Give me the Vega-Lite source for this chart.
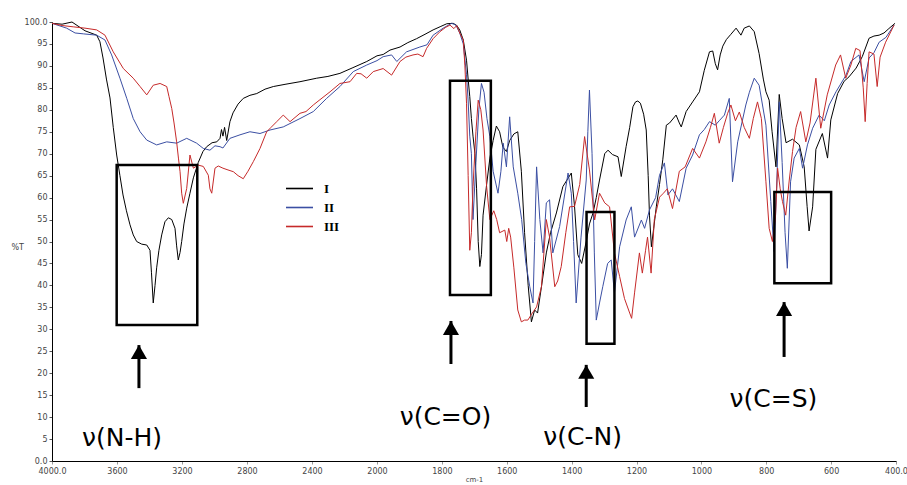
{
"$schema":"https://vega.github.io/schema/vega-lite/v6.json",
"width":844,"height":439,
"autosize":{"type":"none"},
"padding":{"left":52,"top":22,"right":11,"bottom":24},
"background":"white",
"config":{"view":{"stroke":null},"font":"DejaVu Sans"},
"datasets":{
"spec":[
{"s":"I","x":4000,"y":99.7},{"s":"I","x":3938,"y":99.5},{"s":"I","x":3877,"y":100},{"s":"I","x":3797,"y":98},{"s":"I","x":3725,"y":97},{"s":"I","x":3705,"y":95.5},{"s":"I","x":3686,"y":91.8},{"s":"I","x":3665,"y":87},{"s":"I","x":3643,"y":82.7},{"s":"I","x":3623,"y":76},{"s":"I","x":3602,"y":69.7},{"s":"I","x":3582,"y":65},{"s":"I","x":3563,"y":60.6},{"s":"I","x":3542,"y":57},{"s":"I","x":3520,"y":53.8},{"s":"I","x":3500,"y":51.5},{"s":"I","x":3479,"y":50},{"s":"I","x":3448,"y":49.4},{"s":"I","x":3417,"y":49.2},{"s":"I","x":3397,"y":48},{"s":"I","x":3388,"y":43},{"s":"I","x":3377,"y":36},{"s":"I","x":3366,"y":40},{"s":"I","x":3356,"y":44},{"s":"I","x":3342,"y":48},{"s":"I","x":3325,"y":51.5},{"s":"I","x":3305,"y":54.5},{"s":"I","x":3284,"y":55.4},{"s":"I","x":3263,"y":55},{"s":"I","x":3243,"y":53},{"s":"I","x":3233,"y":49},{"s":"I","x":3223,"y":45.8},{"s":"I","x":3212,"y":47.5},{"s":"I","x":3202,"y":50},{"s":"I","x":3188,"y":54},{"s":"I","x":3171,"y":57.6},{"s":"I","x":3151,"y":61},{"s":"I","x":3130,"y":64.5},{"s":"I","x":3100,"y":68},{"s":"I","x":3071,"y":70.5},{"s":"I","x":3048,"y":71.6},{"s":"I","x":3015,"y":72.5},{"s":"I","x":2986,"y":72.7},{"s":"I","x":2966,"y":73.5},{"s":"I","x":2957,"y":75.5},{"s":"I","x":2948,"y":74},{"s":"I","x":2938,"y":76},{"s":"I","x":2925,"y":73},{"s":"I","x":2905,"y":77.3},{"s":"I","x":2886,"y":79.3},{"s":"I","x":2855,"y":81.3},{"s":"I","x":2823,"y":82.6},{"s":"I","x":2782,"y":83.3},{"s":"I","x":2740,"y":83.7},{"s":"I","x":2689,"y":84.7},{"s":"I","x":2638,"y":85.3},{"s":"I","x":2566,"y":85.8},{"s":"I","x":2474,"y":86.4},{"s":"I","x":2371,"y":87.2},{"s":"I","x":2302,"y":87.6},{"s":"I","x":2228,"y":88.3},{"s":"I","x":2148,"y":89.6},{"s":"I","x":2063,"y":91},{"s":"I","x":2000,"y":92.3},{"s":"I","x":1981,"y":92.6},{"s":"I","x":1960,"y":93.6},{"s":"I","x":1929,"y":94.3},{"s":"I","x":1905,"y":95.3},{"s":"I","x":1878,"y":96.2},{"s":"I","x":1852,"y":97.2},{"s":"I","x":1827,"y":98.2},{"s":"I","x":1803,"y":99},{"s":"I","x":1785,"y":99.6},{"s":"I","x":1765,"y":99.7},{"s":"I","x":1754,"y":99.2},{"s":"I","x":1745,"y":98.2},{"s":"I","x":1734,"y":95.9},{"s":"I","x":1724,"y":91.3},{"s":"I","x":1719,"y":87},{"s":"I","x":1714,"y":83},{"s":"I","x":1709,"y":78},{"s":"I","x":1704,"y":74},{"s":"I","x":1698,"y":70},{"s":"I","x":1693,"y":62},{"s":"I","x":1688,"y":50},{"s":"I","x":1683,"y":44.3},{"s":"I","x":1678,"y":47},{"s":"I","x":1673,"y":56},{"s":"I","x":1662,"y":63},{"s":"I","x":1652,"y":69},{"s":"I","x":1642,"y":73},{"s":"I","x":1632,"y":76.3},{"s":"I","x":1622,"y":75},{"s":"I","x":1612,"y":71.5},{"s":"I","x":1601,"y":70.5},{"s":"I","x":1591,"y":73},{"s":"I","x":1578,"y":74.5},{"s":"I","x":1566,"y":75},{"s":"I","x":1555,"y":66},{"s":"I","x":1545,"y":52},{"s":"I","x":1534,"y":40},{"s":"I","x":1524,"y":31.7},{"s":"I","x":1514,"y":34.4},{"s":"I","x":1505,"y":33.7},{"s":"I","x":1493,"y":39.7},{"s":"I","x":1478,"y":47.4},{"s":"I","x":1465,"y":52},{"s":"I","x":1447,"y":56.5},{"s":"I","x":1427,"y":62.5},{"s":"I","x":1401,"y":65.6},{"s":"I","x":1391,"y":58},{"s":"I","x":1381,"y":47},{"s":"I","x":1369,"y":45},{"s":"I","x":1355,"y":50},{"s":"I","x":1345,"y":54},{"s":"I","x":1334,"y":56.5},{"s":"I","x":1324,"y":60},{"s":"I","x":1314,"y":64},{"s":"I","x":1298,"y":70},{"s":"I","x":1288,"y":70.8},{"s":"I","x":1274,"y":69.8},{"s":"I","x":1257,"y":69.3},{"s":"I","x":1247,"y":64.8},{"s":"I","x":1232,"y":71.6},{"s":"I","x":1221,"y":76},{"s":"I","x":1211,"y":80.7},{"s":"I","x":1203,"y":81.8},{"s":"I","x":1196,"y":82},{"s":"I","x":1188,"y":81.5},{"s":"I","x":1178,"y":79},{"s":"I","x":1170,"y":75.4},{"s":"I","x":1164,"y":65},{"s":"I","x":1160,"y":56},{"s":"I","x":1154,"y":48.8},{"s":"I","x":1147,"y":53},{"s":"I","x":1139,"y":57.9},{"s":"I","x":1129,"y":63},{"s":"I","x":1119,"y":68.6},{"s":"I","x":1108,"y":76.5},{"s":"I","x":1098,"y":77},{"s":"I","x":1078,"y":78.8},{"s":"I","x":1068,"y":77},{"s":"I","x":1062,"y":76.1},{"s":"I","x":1047,"y":79.6},{"s":"I","x":1027,"y":81.8},{"s":"I","x":1006,"y":84.1},{"s":"I","x":991,"y":89},{"s":"I","x":975,"y":93.2},{"s":"I","x":965,"y":93.4},{"s":"I","x":957,"y":90.5},{"s":"I","x":950,"y":89.1},{"s":"I","x":942,"y":92.5},{"s":"I","x":934,"y":94.5},{"s":"I","x":923,"y":96},{"s":"I","x":909,"y":97.2},{"s":"I","x":893,"y":98.6},{"s":"I","x":878,"y":97},{"s":"I","x":868,"y":98.6},{"s":"I","x":852,"y":99.1},{"s":"I","x":837,"y":97.8},{"s":"I","x":822,"y":92.8},{"s":"I","x":809,"y":87},{"s":"I","x":801,"y":84.1},{"s":"I","x":791,"y":82.2},{"s":"I","x":782,"y":75},{"s":"I","x":770,"y":67},{"s":"I","x":760,"y":83.5},{"s":"I","x":751,"y":78},{"s":"I","x":739,"y":72.5},{"s":"I","x":719,"y":73.3},{"s":"I","x":698,"y":72},{"s":"I","x":683,"y":67},{"s":"I","x":674,"y":58},{"s":"I","x":668,"y":52.4},{"s":"I","x":657,"y":57.9},{"s":"I","x":647,"y":71},{"s":"I","x":627,"y":74.6},{"s":"I","x":611,"y":69},{"s":"I","x":601,"y":77.7},{"s":"I","x":580,"y":83.7},{"s":"I","x":560,"y":86.5},{"s":"I","x":545,"y":87.5},{"s":"I","x":523,"y":89.5},{"s":"I","x":504,"y":92.1},{"s":"I","x":483,"y":96.3},{"s":"I","x":468,"y":96.8},{"s":"I","x":452,"y":97},{"s":"I","x":437,"y":97.5},{"s":"I","x":422,"y":98.5},{"s":"I","x":403,"y":99.7},
{"s":"II","x":4000,"y":99.7},{"s":"II","x":3910,"y":98.6},{"s":"II","x":3858,"y":97.5},{"s":"II","x":3807,"y":97.3},{"s":"II","x":3725,"y":97},{"s":"II","x":3674,"y":95.9},{"s":"II","x":3633,"y":92.5},{"s":"II","x":3582,"y":87.2},{"s":"II","x":3540,"y":82.6},{"s":"II","x":3500,"y":78},{"s":"II","x":3458,"y":75},{"s":"II","x":3417,"y":73.1},{"s":"II","x":3356,"y":72},{"s":"II","x":3294,"y":72.7},{"s":"II","x":3233,"y":72.4},{"s":"II","x":3171,"y":73.5},{"s":"II","x":3110,"y":72.4},{"s":"II","x":3069,"y":71.2},{"s":"II","x":3028,"y":70.8},{"s":"II","x":2997,"y":71.8},{"s":"II","x":2966,"y":71.6},{"s":"II","x":2948,"y":71.3},{"s":"II","x":2905,"y":73.5},{"s":"II","x":2843,"y":74.3},{"s":"II","x":2782,"y":75},{"s":"II","x":2720,"y":74.6},{"s":"II","x":2658,"y":75.4},{"s":"II","x":2577,"y":76.1},{"s":"II","x":2474,"y":78},{"s":"II","x":2392,"y":79.6},{"s":"II","x":2310,"y":82.6},{"s":"II","x":2228,"y":85.3},{"s":"II","x":2146,"y":88.7},{"s":"II","x":2063,"y":90.2},{"s":"II","x":2000,"y":91.2},{"s":"II","x":1981,"y":92.1},{"s":"II","x":1955,"y":92.5},{"s":"II","x":1939,"y":91},{"s":"II","x":1909,"y":93.2},{"s":"II","x":1868,"y":94.3},{"s":"II","x":1846,"y":94.8},{"s":"II","x":1827,"y":97},{"s":"II","x":1796,"y":98.6},{"s":"II","x":1770,"y":99.7},{"s":"II","x":1757,"y":99.3},{"s":"II","x":1745,"y":97.5},{"s":"II","x":1734,"y":95},{"s":"II","x":1724,"y":88},{"s":"II","x":1719,"y":82},{"s":"II","x":1714,"y":74},{"s":"II","x":1709,"y":70},{"s":"II","x":1704,"y":55},{"s":"II","x":1695,"y":68},{"s":"II","x":1686,"y":80},{"s":"II","x":1678,"y":86},{"s":"II","x":1670,"y":84},{"s":"II","x":1661,"y":78},{"s":"II","x":1652,"y":73.9},{"s":"II","x":1642,"y":66},{"s":"II","x":1627,"y":61},{"s":"II","x":1618,"y":66},{"s":"II","x":1611,"y":72.4},{"s":"II","x":1601,"y":67},{"s":"II","x":1591,"y":78.4},{"s":"II","x":1580,"y":67},{"s":"II","x":1566,"y":61},{"s":"II","x":1554,"y":55},{"s":"II","x":1541,"y":45},{"s":"II","x":1529,"y":39.7},{"s":"II","x":1519,"y":36},{"s":"II","x":1514,"y":50},{"s":"II","x":1508,"y":67},{"s":"II","x":1498,"y":55},{"s":"II","x":1488,"y":47.4},{"s":"II","x":1478,"y":58.8},{"s":"II","x":1468,"y":59.5},{"s":"II","x":1458,"y":47.4},{"s":"II","x":1437,"y":53.4},{"s":"II","x":1411,"y":65.6},{"s":"II","x":1401,"y":61},{"s":"II","x":1394,"y":50},{"s":"II","x":1386,"y":36},{"s":"II","x":1371,"y":51},{"s":"II","x":1355,"y":64},{"s":"II","x":1350,"y":75},{"s":"II","x":1345,"y":84.5},{"s":"II","x":1337,"y":70},{"s":"II","x":1330,"y":47.4},{"s":"II","x":1324,"y":32.1},{"s":"II","x":1314,"y":36},{"s":"II","x":1304,"y":39.7},{"s":"II","x":1289,"y":45},{"s":"II","x":1278,"y":45.8},{"s":"II","x":1268,"y":38.3},{"s":"II","x":1252,"y":48.8},{"s":"II","x":1232,"y":54.9},{"s":"II","x":1216,"y":57.9},{"s":"II","x":1206,"y":51},{"s":"II","x":1185,"y":54.9},{"s":"II","x":1175,"y":53},{"s":"II","x":1160,"y":57.2},{"s":"II","x":1141,"y":60},{"s":"II","x":1129,"y":65.1},{"s":"II","x":1114,"y":67.9},{"s":"II","x":1103,"y":60.6},{"s":"II","x":1089,"y":62},{"s":"II","x":1068,"y":59.1},{"s":"II","x":1047,"y":66.7},{"s":"II","x":1027,"y":69.7},{"s":"II","x":1006,"y":74.3},{"s":"II","x":991,"y":75.5},{"s":"II","x":975,"y":77.3},{"s":"II","x":957,"y":76.5},{"s":"II","x":945,"y":77.5},{"s":"II","x":929,"y":78.8},{"s":"II","x":914,"y":82.6},{"s":"II","x":904,"y":63.6},{"s":"II","x":888,"y":72.7},{"s":"II","x":863,"y":81.1},{"s":"II","x":852,"y":84},{"s":"II","x":837,"y":87.2},{"s":"II","x":822,"y":85.6},{"s":"II","x":801,"y":76.5},{"s":"II","x":786,"y":59.1},{"s":"II","x":776,"y":47.7},{"s":"II","x":768,"y":62},{"s":"II","x":760,"y":81.8},{"s":"II","x":751,"y":68},{"s":"II","x":742,"y":52},{"s":"II","x":735,"y":43.9},{"s":"II","x":725,"y":63.6},{"s":"II","x":714,"y":69},{"s":"II","x":698,"y":71.2},{"s":"II","x":688,"y":66.7},{"s":"II","x":673,"y":72},{"s":"II","x":657,"y":75.8},{"s":"II","x":637,"y":78.8},{"s":"II","x":621,"y":77.5},{"s":"II","x":606,"y":81.1},{"s":"II","x":585,"y":84.1},{"s":"II","x":554,"y":87.9},{"s":"II","x":539,"y":91},{"s":"II","x":514,"y":92.5},{"s":"II","x":498,"y":86.4},{"s":"II","x":483,"y":91.8},{"s":"II","x":468,"y":93},{"s":"II","x":452,"y":95.4},{"s":"II","x":431,"y":96.5},{"s":"II","x":406,"y":99.3},
{"s":"III","x":4000,"y":99.7},{"s":"III","x":3938,"y":99.2},{"s":"III","x":3869,"y":98.9},{"s":"III","x":3797,"y":98.6},{"s":"III","x":3725,"y":98.2},{"s":"III","x":3674,"y":97},{"s":"III","x":3623,"y":93.2},{"s":"III","x":3561,"y":89.4},{"s":"III","x":3500,"y":87.2},{"s":"III","x":3458,"y":85.3},{"s":"III","x":3417,"y":83.4},{"s":"III","x":3397,"y":84.5},{"s":"III","x":3377,"y":85.6},{"s":"III","x":3335,"y":86},{"s":"III","x":3294,"y":85.3},{"s":"III","x":3280,"y":83},{"s":"III","x":3263,"y":80.3},{"s":"III","x":3249,"y":77},{"s":"III","x":3233,"y":72.7},{"s":"III","x":3222,"y":69},{"s":"III","x":3212,"y":65.9},{"s":"III","x":3202,"y":61},{"s":"III","x":3192,"y":58.7},{"s":"III","x":3171,"y":62.1},{"s":"III","x":3151,"y":69.7},{"s":"III","x":3130,"y":66.7},{"s":"III","x":3100,"y":67.4},{"s":"III","x":3069,"y":67.1},{"s":"III","x":3038,"y":65.1},{"s":"III","x":3028,"y":62},{"s":"III","x":3017,"y":61},{"s":"III","x":2997,"y":66.7},{"s":"III","x":2977,"y":67.2},{"s":"III","x":2948,"y":66.7},{"s":"III","x":2917,"y":66.3},{"s":"III","x":2884,"y":65.9},{"s":"III","x":2855,"y":65},{"s":"III","x":2823,"y":64.3},{"s":"III","x":2794,"y":66},{"s":"III","x":2761,"y":68.2},{"s":"III","x":2720,"y":71.2},{"s":"III","x":2679,"y":75},{"s":"III","x":2652,"y":76},{"s":"III","x":2617,"y":77.3},{"s":"III","x":2577,"y":78.8},{"s":"III","x":2535,"y":77.3},{"s":"III","x":2474,"y":79.2},{"s":"III","x":2437,"y":79.6},{"s":"III","x":2392,"y":81.1},{"s":"III","x":2351,"y":82.3},{"s":"III","x":2289,"y":84.1},{"s":"III","x":2228,"y":86},{"s":"III","x":2166,"y":86.4},{"s":"III","x":2125,"y":88.3},{"s":"III","x":2098,"y":88.2},{"s":"III","x":2063,"y":87.2},{"s":"III","x":2023,"y":88.7},{"s":"III","x":1981,"y":89.4},{"s":"III","x":1955,"y":87.9},{"s":"III","x":1929,"y":91},{"s":"III","x":1911,"y":92},{"s":"III","x":1889,"y":92.5},{"s":"III","x":1874,"y":92.7},{"s":"III","x":1858,"y":92.1},{"s":"III","x":1847,"y":94},{"s":"III","x":1827,"y":96.2},{"s":"III","x":1806,"y":97.8},{"s":"III","x":1788,"y":98.8},{"s":"III","x":1775,"y":99.3},{"s":"III","x":1763,"y":98.5},{"s":"III","x":1754,"y":99.2},{"s":"III","x":1745,"y":97.5},{"s":"III","x":1734,"y":95.9},{"s":"III","x":1729,"y":90},{"s":"III","x":1724,"y":81.5},{"s":"III","x":1719,"y":65},{"s":"III","x":1714,"y":48},{"s":"III","x":1709,"y":52},{"s":"III","x":1704,"y":62.5},{"s":"III","x":1695,"y":75},{"s":"III","x":1688,"y":82.2},{"s":"III","x":1680,"y":80},{"s":"III","x":1673,"y":75.4},{"s":"III","x":1662,"y":62.5},{"s":"III","x":1652,"y":55},{"s":"III","x":1640,"y":57},{"s":"III","x":1631,"y":55},{"s":"III","x":1622,"y":52},{"s":"III","x":1606,"y":52.6},{"s":"III","x":1600,"y":50},{"s":"III","x":1594,"y":53},{"s":"III","x":1588,"y":51},{"s":"III","x":1578,"y":44},{"s":"III","x":1566,"y":34.4},{"s":"III","x":1555,"y":31.7},{"s":"III","x":1545,"y":32.1},{"s":"III","x":1535,"y":32.1},{"s":"III","x":1523,"y":33.5},{"s":"III","x":1508,"y":35.1},{"s":"III","x":1493,"y":39.7},{"s":"III","x":1478,"y":55},{"s":"III","x":1468,"y":51},{"s":"III","x":1452,"y":39.7},{"s":"III","x":1443,"y":41},{"s":"III","x":1432,"y":44.3},{"s":"III","x":1418,"y":52},{"s":"III","x":1406,"y":57.9},{"s":"III","x":1391,"y":58},{"s":"III","x":1375,"y":63},{"s":"III","x":1360,"y":73.9},{"s":"III","x":1345,"y":66.3},{"s":"III","x":1329,"y":54.9},{"s":"III","x":1314,"y":61},{"s":"III","x":1298,"y":58.8},{"s":"III","x":1283,"y":57.9},{"s":"III","x":1268,"y":47.4},{"s":"III","x":1252,"y":42},{"s":"III","x":1237,"y":37},{"s":"III","x":1221,"y":33.7},{"s":"III","x":1215,"y":32.5},{"s":"III","x":1206,"y":38.3},{"s":"III","x":1191,"y":47.4},{"s":"III","x":1182,"y":42.8},{"s":"III","x":1172,"y":48},{"s":"III","x":1166,"y":51},{"s":"III","x":1155,"y":42.8},{"s":"III","x":1145,"y":55},{"s":"III","x":1129,"y":60.1},{"s":"III","x":1117,"y":61},{"s":"III","x":1105,"y":62},{"s":"III","x":1089,"y":57.5},{"s":"III","x":1068,"y":66},{"s":"III","x":1050,"y":67},{"s":"III","x":1027,"y":71.2},{"s":"III","x":1006,"y":69},{"s":"III","x":986,"y":72.7},{"s":"III","x":972,"y":76},{"s":"III","x":960,"y":79.2},{"s":"III","x":945,"y":72.4},{"s":"III","x":932,"y":76},{"s":"III","x":919,"y":79.2},{"s":"III","x":909,"y":81.1},{"s":"III","x":895,"y":77.5},{"s":"III","x":883,"y":79.5},{"s":"III","x":868,"y":76},{"s":"III","x":852,"y":73.5},{"s":"III","x":840,"y":78},{"s":"III","x":827,"y":81.8},{"s":"III","x":815,"y":78},{"s":"III","x":801,"y":63.6},{"s":"III","x":791,"y":53},{"s":"III","x":781,"y":50},{"s":"III","x":772,"y":55},{"s":"III","x":765,"y":66.7},{"s":"III","x":757,"y":62},{"s":"III","x":750,"y":59.1},{"s":"III","x":740,"y":56},{"s":"III","x":729,"y":64},{"s":"III","x":719,"y":70.5},{"s":"III","x":708,"y":76},{"s":"III","x":694,"y":79.6},{"s":"III","x":678,"y":72.7},{"s":"III","x":665,"y":77},{"s":"III","x":647,"y":87.2},{"s":"III","x":632,"y":75.8},{"s":"III","x":612,"y":83.4},{"s":"III","x":586,"y":90.2},{"s":"III","x":571,"y":92.5},{"s":"III","x":555,"y":87.2},{"s":"III","x":539,"y":90.2},{"s":"III","x":524,"y":94},{"s":"III","x":511,"y":93.5},{"s":"III","x":501,"y":85},{"s":"III","x":495,"y":77.3},{"s":"III","x":489,"y":86},{"s":"III","x":483,"y":93.2},{"s":"III","x":468,"y":92.7},{"s":"III","x":458,"y":85.3},{"s":"III","x":449,"y":92},{"s":"III","x":432,"y":95.4},{"s":"III","x":418,"y":97.5},{"s":"III","x":406,"y":99.3}
],
"boxes":[
{"x":3602,"x2":3106,"y":31.0,"y2":67.4},
{"x":1775,"x2":1649,"y":37.8,"y2":86.6},
{"x":1354,"x2":1268,"y":26.7,"y2":56.7},
{"x":775,"x2":600,"y":40.5,"y2":61.3}
],
"arrows":[
{"x":3465,"y":16.6,"y2":26.4},
{"x":1772,"y":22.1,"y2":31.9},
{"x":1355,"y":12.3,"y2":21.9},
{"x":745,"y":23.7,"y2":36.2}
],
"labels":[
{"x":3569,"y":3.4,"t":"ν(N-H)"},
{"x":1789,"y":8.2,"t":"ν(C=O)"},
{"x":1366,"y":3.6,"t":"ν(C-N)"},
{"x":778,"y":12.4,"t":"ν(C=S)"}
]
},
"encoding":{
"x":{"field":"x","type":"quantitative",
"scale":{"domain":[4000,2000,400],"range":[0,325,844],"nice":false,"zero":false},
"axis":{"values":[4000,3600,3200,2800,2400,2000,1800,1600,1400,1200,1000,800,600,400],
"labelExpr":"datum.value==4000?'4000.0':datum.value==400?'400.0':''+datum.value",
"grid":false,"tickSize":3,"tickColor":"#999","domainColor":"#000","labelFontSize":8,"labelColor":"#444","labelPadding":3,"labelFlush":false,
"title":"cm-1","titleFontSize":7,"titleFontWeight":"normal","titleColor":"#444","titlePadding":0}},
"y":{"field":"y","type":"quantitative",
"scale":{"domain":[0,100],"nice":false,"zero":false},
"axis":{"values":[0,5,10,15,20,25,30,35,40,45,50,55,60,65,70,75,80,85,90,95,100],
"labelExpr":"datum.value==100?'100.0':datum.value==0?'0.0':''+datum.value",
"grid":false,"tickSize":3,"tickColor":"#555","domainColor":"#000","labelFontSize":8,"labelColor":"#444","labelPadding":2,
"title":"%T","titleAngle":0,"titleX":-41,"titleY":229,"titleAlign":"left","titleFontSize":8,"titleFontWeight":"normal","titleColor":"#444"}}
},
"layer":[
{"data":{"name":"spec"},
"mark":{"type":"line","strokeWidth":1},
"encoding":{"color":{"field":"s","type":"nominal",
"scale":{"domain":["I","II","III"],"range":["#000000","#3b4fa3","#c62a2a"]},
"legend":{"orient":"none","legendX":241,"legendY":160,"title":null,"symbolType":"M-2.7,0H2.7","symbolSize":100,"symbolStrokeWidth":1.6,"labelFont":"Liberation Serif","labelFontWeight":"bold","labelFontSize":13,"labelColor":"#000","labelOffset":18,"rowPadding":5}}}},
{"data":{"name":"boxes"},
"mark":{"type":"rect","filled":false,"stroke":"#000","strokeWidth":2.5},
"encoding":{"x2":{"field":"x2"},"y2":{"field":"y2"}}},
{"data":{"name":"arrows"},
"mark":{"type":"rule","strokeWidth":3,"color":"#000"},
"encoding":{"y2":{"field":"y2"}}},
{"data":{"name":"arrows"},
"mark":{"type":"point","shape":"triangle-up","filled":true,"color":"#000","opacity":1,"size":260,"yOffset":7},
"encoding":{"y":{"field":"y2","type":"quantitative"}}},
{"data":{"name":"labels"},
"mark":{"type":"text","fontSize":25,"font":"DejaVu Sans","align":"center","baseline":"alphabetic","color":"#000"},
"encoding":{"text":{"field":"t"}}}
]
}
